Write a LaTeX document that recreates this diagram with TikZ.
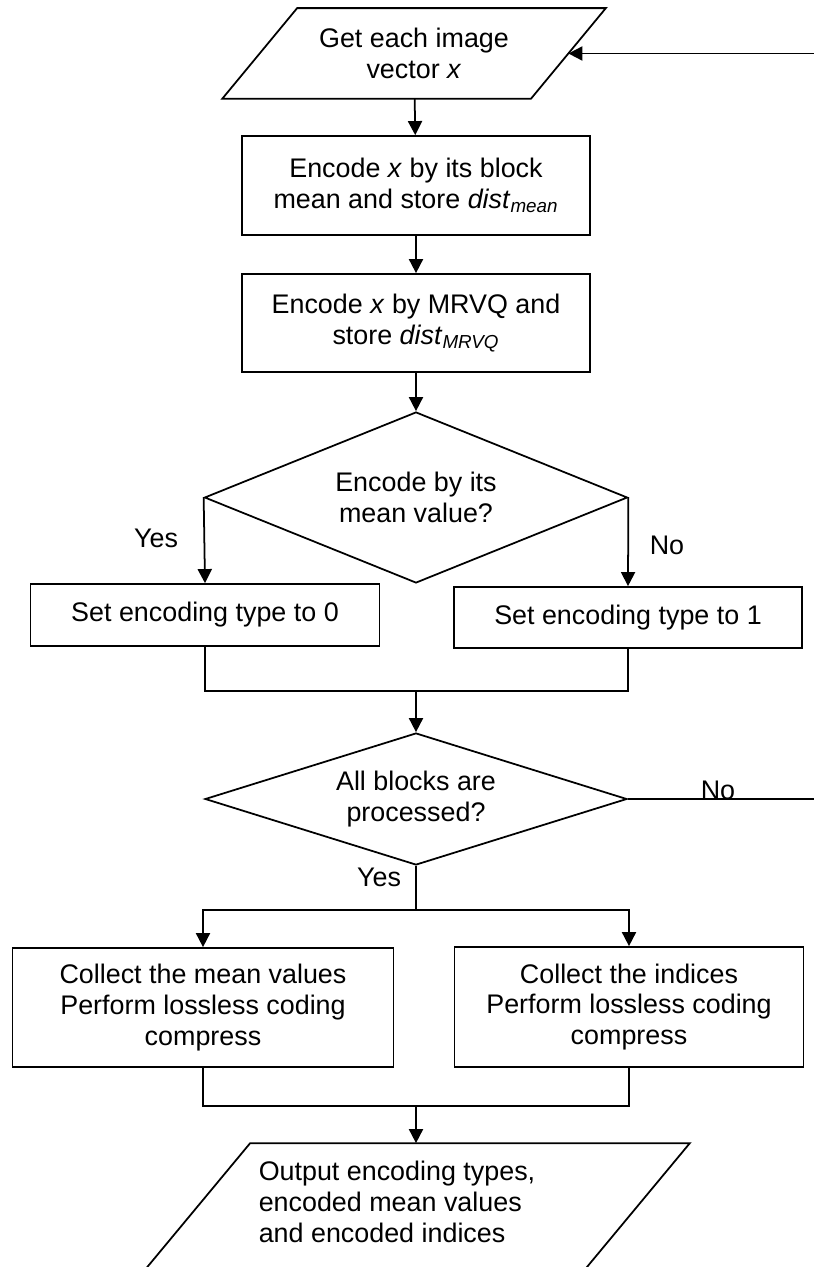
\documentclass[tikz,border=0pt]{standalone}
\usepackage{fontspec}
\setmainfont{Liberation Sans}
\usetikzlibrary{shapes.geometric, arrows.meta}

\begin{document}
\begin{tikzpicture}[auto, x = 0.02cm, y = -0.02cm, line width = 1pt,
		>={Triangle[length = 8pt, width = 8pt]},
		every node/.style = {font = \fontsize{15.3}{17.6}\selectfont},
		proc/.style = {draw, rectangle, align = center, inner sep = 0pt},
		io/.style = {rectangle, align = center, inner sep = 0pt},
		test/.style = {draw, diamond, align = center, inner sep = 0pt}]
		\useasboundingbox (0, 0) rectangle (814, 1267);
		\clip (0, 0) rectangle (814, 1267);
		%%%%%%%%%%%%%
		\node [io, minimum width = 6.14cm, minimum height = 1.78cm] (in) at (414, 53.5) {Get each image\\vector \textit{x}};
		\node [proc, minimum width = 6.96cm, minimum height = 1.98cm] (mean) at (416, 185.5) {Encode \textit{x} by its block\\mean and store \textit{dist}\textsubscript{\textit{mean}}};
		\node [proc, minimum width = 6.96cm, minimum height = 1.96cm] (mrvq) at (416, 323) {Encode \textit{x} by MRVQ and\\store \textit{dist}\textsubscript{\textit{MRVQ}}};
		\node [test, aspect = 2.47, minimum width = 8.46cm, minimum height = 3.42cm] (dec1) at (416, 497.5) {Encode by its\\mean value?};
		\node [proc, minimum width = 6.98cm, minimum height = 1.24cm] (type0) at (205, 615) {Set encoding type to 0};
		\node [proc, minimum width = 6.96cm, minimum height = 1.22cm] (type1) at (628, 617.5) {Set encoding type to 1};
		\node [test, aspect = 3.2, minimum width = 8.44cm, minimum height = 2.64cm] (done) at (416, 799) {All blocks are\\processed?};
		\node [proc, minimum width = 7.62cm, minimum height = 2.38cm] (collmean) at (203, 1007.5) {Collect the mean values\\Perform lossless coding\\compress};
		\node [proc, minimum width = 6.98cm, minimum height = 2.40cm] (collidx) at (629, 1007) {Collect the indices\\Perform lossless coding\\compress};
		\node [io, minimum width = 8.76cm, minimum height = 3.12cm] (out) at (404.5, 1222) {};
		\node [align = left] (outtext) at (397, 1202) {Output encoding types,\\encoded mean values\\and encoded indices};
		%%%%%%%%%%%%%
		\draw ([xshift = 0.75cm] in.north west) -- ([xshift = 0.75cm] in.north east)
			-- ([xshift = -0.75cm] in.south east) -- ([xshift = -0.75cm] in.south west) -- cycle;
		\draw ([xshift = 1.31cm] out.north west) -- ([xshift = 1.31cm] out.north east)
			-- ([xshift = -1.31cm] out.south east) -- ([xshift = -1.31cm] out.south west) -- cycle;
		%%%%%%%%%%%%%
		\node (yes1) at (156, 538) {Yes};
		\node (no1) at (667, 545) {No};
		\node (no2) at (718, 790) {No};
		\node (yes2) at (379, 877) {Yes};
		\coordinate (j1) at (416, 691);
		\coordinate (j2) at (416, 910);
		\coordinate (j3) at (416, 1106);
		\coordinate (loop) at (814, 799);
		\coordinate (back) at (814, 53.5);
		%%%%%%%%%%%%%
		\draw [->] (in) to (mean);
		\draw [->] (mean) to (mrvq);
		\draw [->] (mrvq) to (dec1);
		\draw [->] (dec1.west) to (type0.north);
		\draw [->] (dec1.east) to (type1.north);
		\draw (type0) |- (j1) -| (type1);
		\draw [->] (j1) to (done);
		\draw (done) to (j2);
		\draw [->] (j2) -| (collmean);
		\draw [->] (j2) -| (collidx);
		\draw (collmean) |- (j3) -| (collidx);
		\draw [->] (j3) to (j3 |- out.north);
		\draw (done.east) to (loop);
		\draw [->] (back) to (in.east);
\end{tikzpicture}
\end{document}
